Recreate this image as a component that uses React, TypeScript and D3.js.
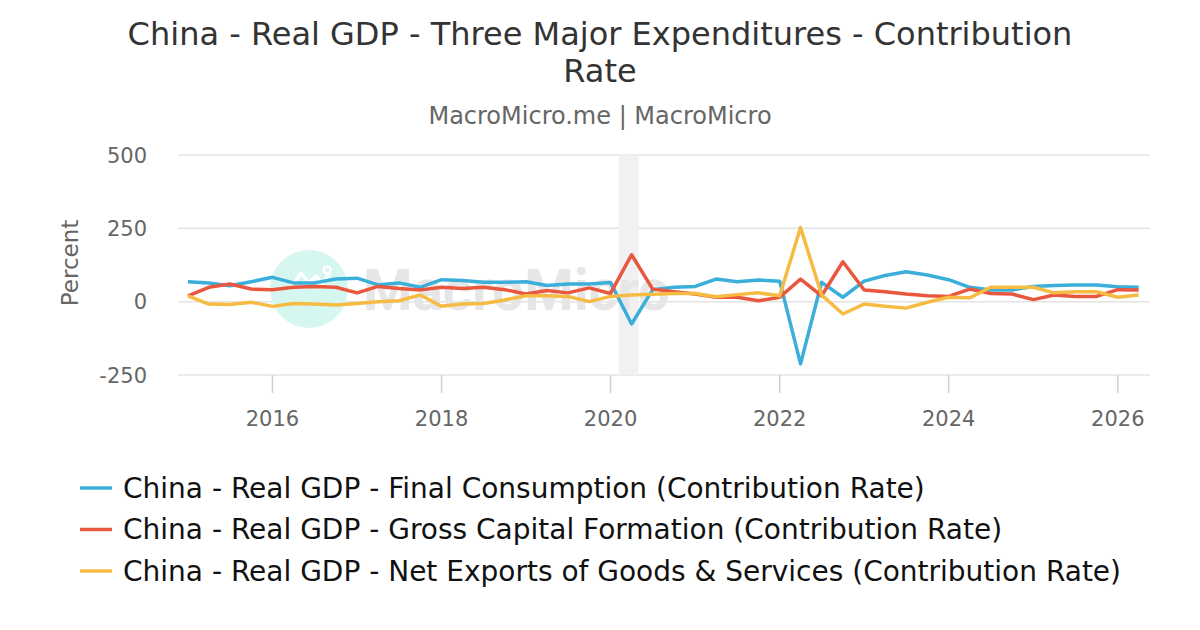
import React, { useEffect, useRef } from "react";
import * as d3 from "d3";

// quarterly observations
const quarters = [
  "2015-01-01", "2015-04-01", "2015-07-01", "2015-10-01",
  "2016-01-01", "2016-04-01", "2016-07-01", "2016-10-01",
  "2017-01-01", "2017-04-01", "2017-07-01", "2017-10-01",
  "2018-01-01", "2018-04-01", "2018-07-01", "2018-10-01",
  "2019-01-01", "2019-04-01", "2019-07-01", "2019-10-01",
  "2020-01-01", "2020-04-01", "2020-07-01", "2020-10-01",
  "2021-01-01", "2021-04-01", "2021-07-01", "2021-10-01",
  "2022-01-01", "2022-04-01", "2022-07-01", "2022-10-01",
  "2023-01-01", "2023-04-01", "2023-07-01", "2023-10-01",
  "2024-01-01", "2024-04-01", "2024-07-01", "2024-10-01",
  "2025-01-01", "2025-04-01", "2025-07-01", "2025-10-01",
  "2026-01-01", "2026-04-01",
];

const finalConsumption = [
  68, 64, 54, 68, 83, 64, 64, 77, 80, 57, 64, 49,
  75, 72, 66, 66, 68, 55, 60, 60, 65, -76, 41, 49,
  52, 77, 68, 74, 70, -212, 66, 15, 70, 89, 102, 91,
  75, 49, 40, 40, 52, 55, 57, 57, 51, 49,
];

const grossCapital = [
  20, 49, 60, 43, 41, 49, 52, 49, 30, 52, 45, 40,
  49, 45, 49, 41, 26, 38, 30, 47, 28, 160, 43, 34,
  26, 15, 15, 3, 15, 77, 20, 136, 40, 34, 26, 20,
  18, 43, 28, 26, 7, 23, 18, 18, 41, 40,
];

const netExports = [
  20, -8, -10, -2, -16, -6, -8, -11, -6, 0, 3, 23,
  -16, -8, -6, 6, 20, 20, 18, 0, 18, 23, 25, 28,
  28, 17, 24, 30, 20, 253, 23, -42, -8, -16, -22, -2,
  15, 13, 49, 49, 49, 30, 34, 34, 15, 23,
];

const seriesNames = [
  "China - Real GDP - Final Consumption (Contribution Rate)",
  "China - Real GDP - Gross Capital Formation (Contribution Rate)",
  "China - Real GDP - Net Exports of Goods & Services (Contribution Rate)",
];
const seriesColors = ["#3BAFDA", "#E9573F", "#F6BB42"];

const yTicks = [-250, 0, 250, 500];
const xTickYears = ["2016", "2018", "2020", "2022", "2024", "2026"];
const recessionBand = ["2020-02-05", "2020-05-01"];

export default function App() {
  const svgRef = useRef<SVGSVGElement>(null);

  useEffect(() => {
    document.body.style.margin = "0";
    const width = 1200;
    const height = 630;
    const left = 178;
    const right = 1150;
    const top = 155;
    const bottom = 375;

    const svg = d3.select(svgRef.current);
    svg.selectAll("*").remove();
    svg
      .attr("width", width)
      .attr("height", height)
      .style("display", "block")
      .style("font-family", "'DejaVu Sans', sans-serif");

    svg.append("rect").attr("width", width).attr("height", height).attr("fill", "#fff");

    const parse = d3.timeParse("%Y-%m-%d");
    const dates = quarters.map((q) => parse(q) as Date);

    const x = d3
      .scaleTime()
      .domain([new Date(2014, 10, 19), new Date(2026, 4, 20)])
      .range([left, right]);
    const y = d3.scaleLinear().domain([-250, 500]).range([bottom, top]);

    // title
    const title = svg
      .append("text")
      .attr("text-anchor", "middle")
      .attr("fill", "#333")
      .style("font-size", "32px");
    title.append("tspan").attr("x", 600).attr("y", 45)
      .text("China - Real GDP - Three Major Expenditures - Contribution");
    title.append("tspan").attr("x", 600).attr("y", 82).text("Rate");

    svg
      .append("text")
      .attr("x", 600)
      .attr("y", 124)
      .attr("text-anchor", "middle")
      .attr("fill", "#666")
      .style("font-size", "24px")
      .text("MacroMicro.me | MacroMicro");

    // gridlines
    svg
      .append("g")
      .selectAll("line")
      .data(yTicks)
      .join("line")
      .attr("x1", left)
      .attr("x2", right)
      .attr("y1", (d) => y(d))
      .attr("y2", (d) => y(d))
      .attr("stroke", "#e3e3e3")
      .attr("stroke-width", 1.5);

    // recession shading
    const band = recessionBand.map((d) => parse(d) as Date);
    svg
      .append("rect")
      .attr("x", x(band[0]))
      .attr("y", top)
      .attr("width", x(band[1]) - x(band[0]))
      .attr("height", bottom - top)
      .attr("fill", "#f1f1f1");

    // watermark
    const wm = svg.append("g");
    wm.append("circle").attr("cx", 309).attr("cy", 289).attr("r", 39).attr("fill", "#d6f7ef");
    wm.append("polyline")
      .attr("points", "292,286 301,273 309,283 316,276 322,284 330,273")
      .attr("fill", "none")
      .attr("stroke", "#fff")
      .attr("stroke-width", 3.5)
      .attr("stroke-linejoin", "round");
    wm.append("circle").attr("cx", 327).attr("cy", 270).attr("r", 3.5)
      .attr("fill", "none").attr("stroke", "#fff").attr("stroke-width", 2.5);
    wm.append("text")
      .attr("x", 363)
      .attr("y", 310)
      .attr("textLength", 307)
      .attr("lengthAdjust", "spacingAndGlyphs")
      .attr("fill", "#e6e6e6")
      .style("font-size", "58px")
      .style("font-weight", "bold")
      .style("font-family", "Roboto, sans-serif")
      .text("MacroMicro");

    // y tick labels
    svg
      .append("g")
      .selectAll("text")
      .data(yTicks)
      .join("text")
      .attr("x", 147)
      .attr("y", (d) => y(d))
      .attr("dy", "0.36em")
      .attr("text-anchor", "end")
      .attr("fill", "#666")
      .style("font-size", "21px")
      .text((d) => String(d));

    svg
      .append("text")
      .attr("transform", `translate(78,263) rotate(-90)`)
      .attr("text-anchor", "middle")
      .attr("fill", "#666")
      .style("font-size", "23px")
      .text("Percent");

    // x axis ticks
    const yearDates = xTickYears.map((yr) => parse(`${yr}-01-01`) as Date);
    const xAxis = svg.append("g");
    xAxis
      .selectAll("line")
      .data(yearDates)
      .join("line")
      .attr("x1", (d) => x(d))
      .attr("x2", (d) => x(d))
      .attr("y1", bottom)
      .attr("y2", bottom + 18)
      .attr("stroke", "#d0d0d0")
      .attr("stroke-width", 1.5);
    xAxis
      .selectAll("text")
      .data(yearDates)
      .join("text")
      .attr("x", (d) => x(d))
      .attr("y", 426)
      .attr("text-anchor", "middle")
      .attr("fill", "#666")
      .style("font-size", "21px")
      .text((d) => d3.timeFormat("%Y")(d));

    // lines
    const seriesValues = [finalConsumption, grossCapital, netExports];
    const line = d3
      .line<number>()
      .x((_, i) => x(dates[i]))
      .y((d) => y(d));

    seriesValues.forEach((values, i) => {
      svg
        .append("path")
        .datum(values)
        .attr("d", line)
        .attr("fill", "none")
        .attr("stroke", seriesColors[i])
        .attr("stroke-width", 3.5)
        .attr("stroke-linejoin", "round");
    });

    // legend
    seriesNames.forEach((name, i) => {
      const row = svg.append("g").attr("transform", `translate(80, ${488 + i * 41.5})`);
      row.append("line")
        .attr("x1", 0)
        .attr("x2", 32)
        .attr("stroke", seriesColors[i])
        .attr("stroke-width", 3.5);
      row.append("text")
        .attr("x", 43)
        .attr("y", 9.5)
        .attr("fill", "#111")
        .style("font-size", "28px")
        .text(name);
    });
  }, []);

  return <svg ref={svgRef}></svg>;
}
